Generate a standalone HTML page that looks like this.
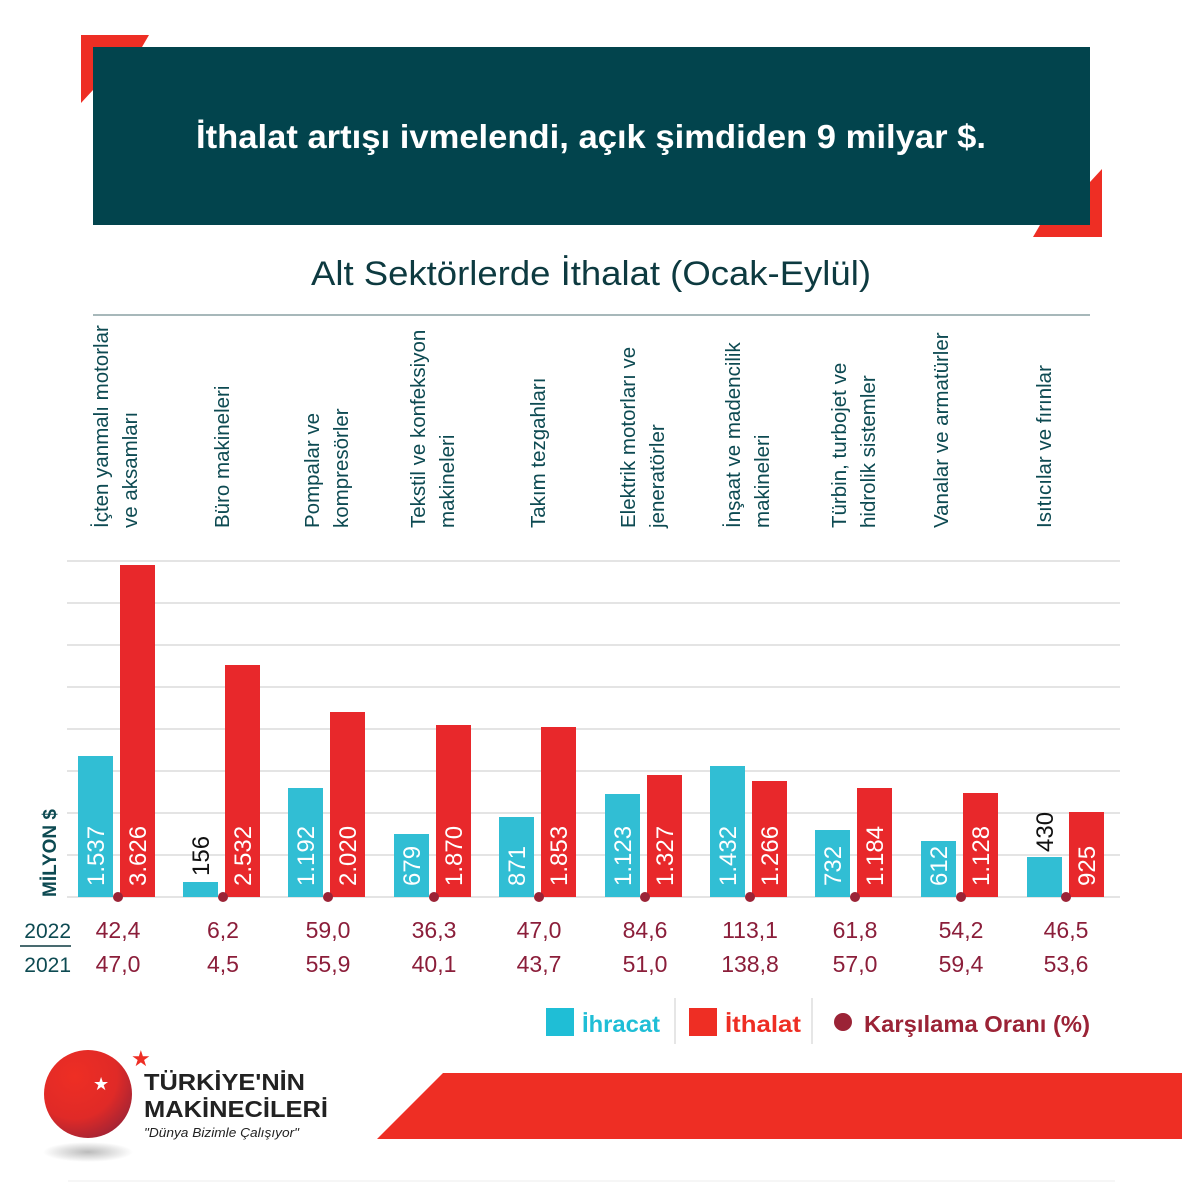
<!DOCTYPE html>
<html><head><meta charset="utf-8"><style>
html,body{margin:0;padding:0;background:#fff}
svg{display:block}
text{font-family:"Liberation Sans",sans-serif}
</style></head><body>
<svg width="1182" height="1182" viewBox="0 0 1182 1182" xmlns="http://www.w3.org/2000/svg">
<rect width="1182" height="1182" fill="#fff"/>
<polygon points="81,35 149,35 142,47 93,47 93,90 81,103" fill="#ee2e24"/>
<polygon points="1102,169 1102,237 1033,237 1040,225 1090,225 1090,182" fill="#ee2e24"/>
<rect x="93" y="47" width="997" height="178" fill="#02444d"/>
<text x="591" y="148" text-anchor="middle" fill="#fff" font-size="33" font-weight="bold" textLength="790" lengthAdjust="spacingAndGlyphs">İthalat artışı ivmelendi, açık şimdiden 9 milyar $.</text>
<text x="591" y="285" text-anchor="middle" fill="#0d3a40" font-size="34" textLength="560" lengthAdjust="spacingAndGlyphs">Alt Sektörlerde İthalat (Ocak-Eylül)</text>
<line x1="93" y1="315" x2="1090" y2="315" stroke="#8aa0a3" stroke-width="1.5"/>
<g stroke="#dcdcdc" stroke-width="1.5">
<line x1="67" y1="561" x2="1120" y2="561"/><line x1="67" y1="603" x2="1120" y2="603"/><line x1="67" y1="645" x2="1120" y2="645"/><line x1="67" y1="687" x2="1120" y2="687"/><line x1="67" y1="729" x2="1120" y2="729"/><line x1="67" y1="771" x2="1120" y2="771"/><line x1="67" y1="813" x2="1120" y2="813"/><line x1="67" y1="855" x2="1120" y2="855"/><line x1="67" y1="897" x2="1120" y2="897"/>
</g>
<g fill="#0d4a52" font-size="20.5">
<text transform="translate(108,528) rotate(-90)">İçten yanmalı motorlar</text>
<text transform="translate(137,528) rotate(-90)">ve aksamları</text>
<text transform="translate(229,528) rotate(-90)">Büro makineleri</text>
<text transform="translate(319,528) rotate(-90)">Pompalar ve</text>
<text transform="translate(348,528) rotate(-90)">kompresörler</text>
<text transform="translate(425,528) rotate(-90)">Tekstil ve konfeksiyon</text>
<text transform="translate(454,528) rotate(-90)">makineleri</text>
<text transform="translate(545,528) rotate(-90)">Takım tezgahları</text>
<text transform="translate(635,528) rotate(-90)">Elektrik motorları ve</text>
<text transform="translate(664,528) rotate(-90)">jeneratörler</text>
<text transform="translate(740,528) rotate(-90)">İnşaat ve madencilik</text>
<text transform="translate(769,528) rotate(-90)">makineleri</text>
<text transform="translate(846,528) rotate(-90)">Türbin, turbojet ve</text>
<text transform="translate(875,528) rotate(-90)">hidrolik sistemler</text>
<text transform="translate(948,528) rotate(-90)">Vanalar ve armatürler</text>
<text transform="translate(1051,528) rotate(-90)">Isıtıcılar ve fırınlar</text>
</g>
<text transform="translate(56,897) rotate(-90)" fill="#0d4a52" font-size="19" font-weight="bold">MİLYON $</text>
<g fill="#31bed4">
<rect x="78" y="756" width="35" height="141"/><rect x="183" y="882" width="35" height="15"/><rect x="288" y="788" width="35" height="109"/><rect x="394" y="834" width="35" height="63"/><rect x="499" y="817" width="35" height="80"/><rect x="605" y="794" width="35" height="103"/><rect x="710" y="766" width="35" height="131"/><rect x="815" y="830" width="35" height="67"/><rect x="921" y="841" width="35" height="56"/><rect x="1027" y="857" width="35" height="40"/>
</g>
<g fill="#e8282b">
<rect x="120" y="565" width="35" height="332"/><rect x="225" y="665" width="35" height="232"/><rect x="330" y="712" width="35" height="185"/><rect x="436" y="725" width="35" height="172"/><rect x="541" y="727" width="35" height="170"/><rect x="647" y="775" width="35" height="122"/><rect x="752" y="781" width="35" height="116"/><rect x="857" y="788" width="35" height="109"/><rect x="963" y="793" width="35" height="104"/><rect x="1069" y="812" width="35" height="85"/>
</g>
<g fill="#fff" font-size="24">
<text transform="translate(104,886) rotate(-90)">1.537</text>
<text transform="translate(146,886) rotate(-90)">3.626</text>
<text transform="translate(251,886) rotate(-90)">2.532</text>
<text transform="translate(314,886) rotate(-90)">1.192</text>
<text transform="translate(356,886) rotate(-90)">2.020</text>
<text transform="translate(420,886) rotate(-90)">679</text>
<text transform="translate(462,886) rotate(-90)">1.870</text>
<text transform="translate(525,886) rotate(-90)">871</text>
<text transform="translate(567,886) rotate(-90)">1.853</text>
<text transform="translate(631,886) rotate(-90)">1.123</text>
<text transform="translate(673,886) rotate(-90)">1.327</text>
<text transform="translate(736,886) rotate(-90)">1.432</text>
<text transform="translate(778,886) rotate(-90)">1.266</text>
<text transform="translate(841,886) rotate(-90)">732</text>
<text transform="translate(883,886) rotate(-90)">1.184</text>
<text transform="translate(947,886) rotate(-90)">612</text>
<text transform="translate(989,886) rotate(-90)">1.128</text>
<text transform="translate(1095,886) rotate(-90)">925</text>
</g>
<g fill="#111" font-size="24">
<text transform="translate(209,876) rotate(-90)">156</text>
<text transform="translate(1053,852) rotate(-90)">430</text>
</g>
<g fill="#9b2336">
<circle cx="118" cy="897" r="5"/><circle cx="223" cy="897" r="5"/><circle cx="328" cy="897" r="5"/><circle cx="434" cy="897" r="5"/><circle cx="539" cy="897" r="5"/><circle cx="645" cy="897" r="5"/><circle cx="750" cy="897" r="5"/><circle cx="855" cy="897" r="5"/><circle cx="961" cy="897" r="5"/><circle cx="1066" cy="897" r="5"/>
</g>
<g fill="#0d4a52" font-size="21" text-anchor="end">
<text x="71" y="938">2022</text><text x="71" y="972">2021</text>
</g>
<line x1="20" y1="946" x2="71" y2="946" stroke="#0d3a40" stroke-width="1.5"/>
<g fill="#8b1e3a" font-size="23" text-anchor="middle">
<text x="118" y="938">42,4</text><text x="223" y="938">6,2</text><text x="328" y="938">59,0</text><text x="434" y="938">36,3</text><text x="539" y="938">47,0</text><text x="645" y="938">84,6</text><text x="750" y="938">113,1</text><text x="855" y="938">61,8</text><text x="961" y="938">54,2</text><text x="1066" y="938">46,5</text>
<text x="118" y="972">47,0</text><text x="223" y="972">4,5</text><text x="328" y="972">55,9</text><text x="434" y="972">40,1</text><text x="539" y="972">43,7</text><text x="645" y="972">51,0</text><text x="750" y="972">138,8</text><text x="855" y="972">57,0</text><text x="961" y="972">59,4</text><text x="1066" y="972">53,6</text>
</g>
<rect x="546" y="1008" width="28" height="28" fill="#1fbed6"/>
<text x="582" y="1032" fill="#1fbed6" font-size="23" font-weight="bold" textLength="78" lengthAdjust="spacingAndGlyphs">İhracat</text>
<line x1="675" y1="998" x2="675" y2="1044" stroke="#ccc"/>
<rect x="689" y="1008" width="28" height="28" fill="#ee2e24"/>
<text x="725" y="1032" fill="#ee2e24" font-size="23" font-weight="bold" textLength="76" lengthAdjust="spacingAndGlyphs">İthalat</text>
<line x1="812" y1="998" x2="812" y2="1044" stroke="#ccc"/>
<circle cx="843" cy="1022" r="9" fill="#9b2336"/>
<text x="864" y="1032" fill="#9b2336" font-size="23" font-weight="bold" textLength="226" lengthAdjust="spacingAndGlyphs">Karşılama Oranı (%)</text>
<defs><radialGradient id="g" cx="0.35" cy="0.3" r="0.8"><stop offset="0" stop-color="#ee2e24"/><stop offset="0.6" stop-color="#e02a27"/><stop offset="1" stop-color="#9b2336"/></radialGradient>
<radialGradient id="sh"><stop offset="0" stop-color="#bbb"/><stop offset="1" stop-color="#fff"/></radialGradient></defs>
<ellipse cx="88" cy="1152" rx="45" ry="10" fill="url(#sh)"/>
<ellipse cx="88" cy="1094" rx="44" ry="44" fill="url(#g)"/>
<text x="131" y="1066" fill="#ee2e24" font-size="22">★</text>
<text x="93" y="1090" fill="#fff" font-size="18">★</text>
<text x="144" y="1090" fill="#222" font-size="23" font-weight="bold" textLength="161" lengthAdjust="spacingAndGlyphs">TÜRKİYE'NİN</text>
<text x="144" y="1117" fill="#222" font-size="23" font-weight="bold" textLength="184" lengthAdjust="spacingAndGlyphs">MAKİNECİLERİ</text>
<text x="144" y="1137" fill="#222" font-size="13" font-style="italic" textLength="155" lengthAdjust="spacingAndGlyphs">"Dünya Bizimle Çalışıyor"</text>
<polygon points="377,1139 443,1073 1182,1073 1182,1139" fill="#ee2e24"/>
<line x1="68" y1="1181" x2="1115" y2="1181" stroke="#eee"/>
</svg>
</body></html>
